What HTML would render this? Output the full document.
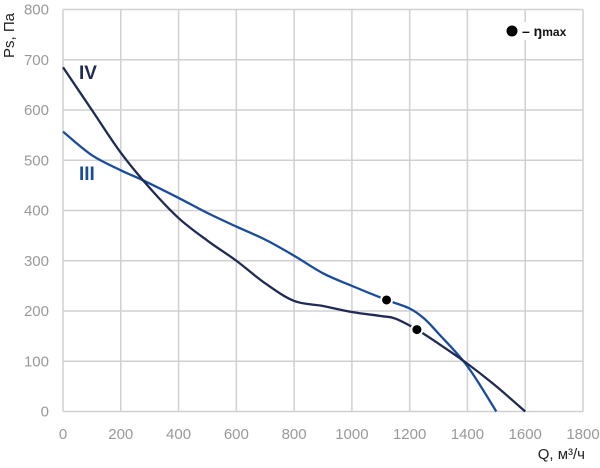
<!DOCTYPE html>
<html><head><meta charset="utf-8"><style>
html,body{margin:0;padding:0;background:#fff;}
svg{display:block;font-family:"Liberation Sans",sans-serif;}
</style></head><body>
<svg id="chart" width="600" height="468" viewBox="0 0 600 468" xmlns="http://www.w3.org/2000/svg">
<g id="grid"></g>
<g id="ticks"></g>
<g id="series"></g>
<text transform="translate(14,58) rotate(-90)" font-size="15" fill="#222">Ps, Па</text>
<text x="585" y="459" font-size="15" fill="#222" text-anchor="end">Q, м³/ч</text>
<text x="79" y="79" font-size="19" font-weight="bold" fill="#1f2a55">IV</text>
<text x="79" y="180" font-size="19" font-weight="bold" fill="#1a4c9c">III</text>
<g>
<rect x="502" y="22" width="74" height="18" fill="#fff"/>
<circle cx="512" cy="31" r="5.5" fill="#000"/>
<text x="522" y="36" font-size="14" font-weight="bold" fill="#111">– ŋ<tspan font-size="12">max</tspan></text>
</g>
</svg>
<script>
const xTicks=[0,200,400,600,800,1000,1200,1400,1600,1800];
const yTicks=[0,100,200,300,400,500,600,700,800];
const q4=[0,100,200,300,400,500,600,700,800,900,1000,1100,1150,1225,1300,1400,1500,1600];
const p4=[685,600,515,445,385,340,300,255,220,210,198,190,185,163,135,95,50,0];
const q3=[0,100,200,270,400,500,600,700,800,900,1000,1120,1200,1250,1300,1400,1500];
const p3=[557,510,480,462,425,395,368,342,310,275,250,222,205,185,155,90,0];
const etaQ=[1120,1225];
const etaP=[222,163];
const X0=63,X1=583,Y0=411.5,Y1=9.5;
const sx=v=>X0+(v-0)/(1800)*(X1-X0);
const sy=v=>Y0-(v/800)*(Y0-Y1);
const NS='http://www.w3.org/2000/svg';
function mk(tag,attrs,parent){const e=document.createElementNS(NS,tag);for(const k in attrs)e.setAttribute(k,attrs[k]);parent.appendChild(e);return e;}
const grid=document.getElementById('grid'),ticks=document.getElementById('ticks'),series=document.getElementById('series');
xTicks.forEach(t=>{const l=mk('line',{x1:sx(t),x2:sx(t),y1:Y1,y2:Y0,stroke:'#d0d0d0','stroke-width':1.5},grid);


const tx=mk('text',{x:sx(t),y:439,'font-size':15,fill:'#999','text-anchor':'middle'},ticks);tx.textContent=t;

});
yTicks.forEach(t=>{const l=mk('line',{x1:X0,x2:X1,y1:sy(t),y2:sy(t),stroke:'#d0d0d0','stroke-width':1.5},grid);


const tx=mk('text',{x:49,y:sy(t)+5,'font-size':15,fill:'#999','text-anchor':'end'},ticks);tx.textContent=t;

});
function path(qs,ps){const pts=qs.map((q,i)=>[sx(q),sy(ps[i])]);let d='M'+pts[0][0]+','+pts[0][1];
for(let i=0;i<pts.length-1;i++){const p0=pts[Math.max(0,i-1)],p1=pts[i],p2=pts[i+1],p3=pts[Math.min(pts.length-1,i+2)];
const c1=[p1[0]+(p2[0]-p0[0])/6,p1[1]+(p2[1]-p0[1])/6],c2=[p2[0]-(p3[0]-p1[0])/6,p2[1]-(p3[1]-p1[1])/6];
d+=' C'+c1+' '+c2+' '+p2;}return d;}
const s3=mk('path',{d:path(q3,p3),fill:'none',stroke:'#1a4c9c','stroke-width':2.3},series);


const s4=mk('path',{d:path(q4,p4),fill:'none',stroke:'#1f2a55','stroke-width':2.3},series);


etaQ.forEach((q,i)=>{const c=mk('circle',{cx:sx(q),cy:sy(etaP[i]),r:5.5,fill:'#000',stroke:'#fff','stroke-width':2},series);

});
</script>
</body></html>
